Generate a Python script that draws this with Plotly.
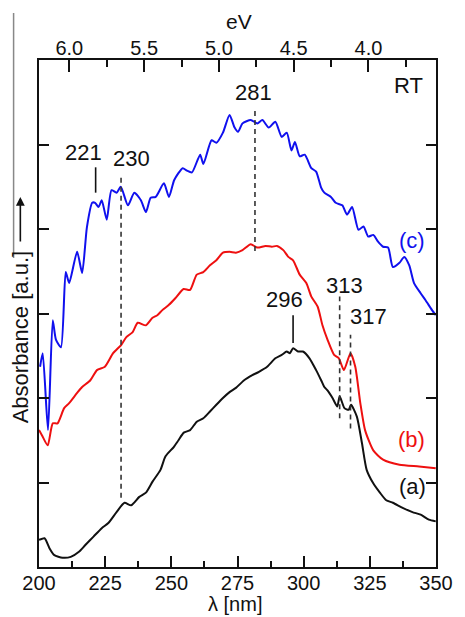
import plotly.graph_objects as go

# ---------------- data ----------------
# (c) blue
wl_c = [200.4, 201.4, 203.4, 205.2, 206.4, 208.3, 210.1, 211.4, 214.4, 216.3, 218.1, 220.1, 221.2,
        222.5, 223.7, 225.6, 227.4, 229.3, 230.9, 233.6, 236.0, 238.5, 240.4, 242.2, 244.1, 247.2,
        249.1, 251.1, 254.3, 255.9, 257.8, 260.9, 262.1, 265.2, 267.0, 269.5, 272.0, 273.9, 275.2,
        276.9, 280.0, 282.5, 284.4, 286.8, 289.3, 291.7, 293.6, 295.4, 296.7, 298.5, 300.4, 302.9,
        304.7, 306.6, 307.8, 310.3, 312.1, 314.6, 316.4, 318.3, 320.7, 322.6, 324.4, 326.3, 328.1,
        330.0, 331.9, 333.7, 336.2, 338.0, 339.9, 341.7, 344.2, 346.0, 348.5, 349.9]
abs_c = [2.37, 2.53, 1.62, 2.92, 2.69, 2.60, 3.49, 3.36, 3.73, 3.48, 4.02, 4.31, 4.31,
         4.26, 4.34, 4.11, 4.46, 4.43, 4.50, 4.28, 4.43, 4.34, 4.20, 4.37, 4.38, 4.54,
         4.38, 4.58, 4.72, 4.69, 4.67, 4.88, 4.77, 5.05, 5.02, 5.14, 5.35, 5.20, 5.15,
         5.25, 5.29, 5.25, 5.29, 5.20, 5.27, 5.09, 5.14, 4.93, 5.03, 4.86, 4.88, 4.72,
         4.68, 4.49, 4.43, 4.38, 4.31, 4.28, 4.17, 4.26, 3.99, 4.03, 3.91, 3.93, 3.85,
         3.79, 3.78, 3.55, 3.60, 3.67, 3.57, 3.36, 3.24, 3.16, 3.04, 2.98]

# (b) red
wl_b = [200.0, 201.1, 203.3, 205.2, 207.0, 209.5, 211.4, 214.4, 216.3, 219.4, 221.9, 224.9, 228.0,
        231.1, 233.0, 235.4, 237.3, 240.4, 242.9, 244.7, 246.6, 249.0, 251.5, 254.6, 257.1, 259.6,
        262.1, 264.6, 267.0, 269.5, 272.0, 274.4, 276.9, 280.0, 282.5, 285.6, 288.0, 289.9, 292.3,
        294.2, 296.0, 298.5, 301.0, 302.9, 305.3, 307.1, 309.0, 311.5, 313.3, 315.2, 317.7, 319.5,
        321.4, 323.2, 326.3, 330.0, 336.2, 343.6, 349.9]
abs_b = [1.62, 1.56, 1.44, 1.70, 1.70, 1.88, 1.94, 2.06, 2.13, 2.21, 2.33, 2.37, 2.53,
         2.63, 2.72, 2.78, 2.89, 2.86, 2.95, 2.98, 3.04, 3.10, 3.18, 3.29, 3.28, 3.46,
         3.49, 3.57, 3.63, 3.72, 3.73, 3.72, 3.75, 3.82, 3.78, 3.80, 3.79, 3.80, 3.75,
         3.67, 3.63, 3.46, 3.36, 3.20, 3.08, 2.86, 2.69, 2.51, 2.47, 2.33, 2.53, 2.37,
         1.94, 1.62, 1.38, 1.27, 1.21, 1.19, 1.17]

# (a) black
wl_a = [200.0, 202.1, 204.0, 205.8, 208.9, 212.0, 215.1, 217.5, 220.6, 223.7, 226.2, 229.3, 232.3,
        234.8, 237.9, 240.4, 242.9, 245.9, 247.8, 250.9, 252.7, 254.7, 257.1, 259.6, 262.1, 264.6,
        267.0, 269.5, 272.0, 274.4, 277.5, 280.6, 283.1, 286.2, 289.3, 291.7, 293.6, 294.8, 296.0,
        297.9, 299.7, 302.2, 304.7, 306.6, 307.8, 309.0, 310.9, 312.7, 313.6, 315.4, 317.0, 317.9,
        320.1, 322.0, 323.8, 326.3, 328.8, 331.2, 333.7, 337.4, 341.1, 344.2, 347.3, 349.9]
abs_a = [0.32, 0.34, 0.22, 0.14, 0.11, 0.12, 0.18, 0.26, 0.36, 0.46, 0.52, 0.65, 0.76,
         0.73, 0.83, 0.88, 1.01, 1.15, 1.31, 1.42, 1.50, 1.59, 1.62, 1.72, 1.76, 1.84,
         1.92, 2.00, 2.07, 2.12, 2.21, 2.27, 2.31, 2.37, 2.47, 2.51, 2.55, 2.53, 2.59,
         2.55, 2.55, 2.47, 2.33, 2.21, 2.13, 2.09, 2.00, 1.90, 2.02, 1.88, 1.86, 1.92,
         1.78, 1.47, 1.15, 0.99, 0.88, 0.79, 0.76, 0.70, 0.65, 0.62, 0.56, 0.54]

# peak marker lines: position, bottom, top, style
mark_labels = ["221", "230", "281", "296", "313", "317"]
mark_x      = [221.4, 231.0, 281.6, 296.0, 313.6, 317.7]
mark_y0     = [4.43, 0.82, 3.74, 2.65, 1.76, 1.64]
mark_y1     = [4.73, 4.62, 5.43, 2.98, 3.20, 2.75]
mark_dashed = [False, True, True, False, True, True]
# label positions
lab_x = [216.7, 234.8, 281.1, 292.8, 315.6, 324.4]
lab_y = [4.91, 4.83, 5.61, 3.16, 3.33, 2.96]

# curve labels
curve_names  = ["(c)", "(b)", "(a)"]
curve_lab_x  = [341.1, 340.7, 341.1]
curve_lab_y  = [3.86, 1.51, 0.95]

x_ticks = [200, 225, 250, 275, 300, 325, 350]
x_minor = [212.5, 237.5, 262.5, 287.5, 312.5, 337.5]
ev_ticks = [6.0, 5.5, 5.0, 4.5, 4.0]
ev_labels = ["6.0", "5.5", "5.0", "4.5", "4.0"]
ev_minor = [5.75, 5.25, 4.75, 4.25, 3.75]
ev_range = [6.203, 3.548]

BLUE = "#1010ee"
RED = "#ee1010"
BLACK = "#111111"
FONT = "Liberation Sans, Arial, sans-serif"

fig = go.Figure()

for wl, ab, col in [(wl_c, abs_c, BLUE), (wl_b, abs_b, RED), (wl_a, abs_a, BLACK)]:
    fig.add_trace(go.Scatter(x=wl, y=ab, mode="lines",
                             line=dict(color=col, width=2, shape="spline", smoothing=0.6),
                             showlegend=False, hoverinfo="skip"))

for xm, y0, y1, d in zip(mark_x, mark_y0, mark_y1, mark_dashed):
    fig.add_trace(go.Scatter(x=[xm, xm], y=[y0, y1], mode="lines",
                             line=dict(color="#333333" if d else BLACK, width=1.6,
                                       dash="5px,4px" if d else "solid"),
                             showlegend=False, hoverinfo="skip"))

# dummy trace for top eV axis
fig.add_trace(go.Scatter(x=ev_range, y=[None, None], xaxis="x2", yaxis="y",
                         mode="markers", showlegend=False, hoverinfo="skip"))

for t, xx, yy in zip(mark_labels, lab_x, lab_y):
    fig.add_annotation(x=xx, y=yy, text=t, showarrow=False, xref="x", yref="y",
                       font=dict(size=22, color=BLACK, family=FONT))
for t, xx, yy, col in zip(curve_names, curve_lab_x, curve_lab_y, [BLUE, RED, BLACK]):
    fig.add_annotation(x=xx, y=yy, text=t, showarrow=False, xref="x", yref="y",
                       font=dict(size=22, color=col, family=FONT))
fig.add_annotation(x=339.6, y=5.70, text="RT", showarrow=False, xref="x", yref="y",
                   font=dict(size=22, color=BLACK, family=FONT))

# axis titles
fig.add_annotation(x=0.494, y=-0.072, xref="paper", yref="paper", text="λ [nm]",
                   showarrow=False, yanchor="middle", font=dict(size=20, color=BLACK, family=FONT))
fig.add_annotation(x=0.503, y=1.075, xref="paper", yref="paper", text="eV",
                   showarrow=False, yanchor="middle", font=dict(size=21, color=BLACK, family=FONT))
fig.add_annotation(x=-0.047, y=(567 - 337) / 507, xref="paper", yref="paper",
                   text="Absorbance [a.u.]",
                   showarrow=False, textangle=-90, xanchor="center", yanchor="middle",
                   font=dict(size=22, color=BLACK, family=FONT))
# arrow after the y title
fig.add_annotation(x=-0.047, y=(567 - 197) / 507, xref="paper", yref="paper", text="",
                   showarrow=True, ax=0, ay=46, axref="pixel", ayref="pixel",
                   arrowhead=2, arrowsize=1.1, arrowwidth=1.6, arrowcolor=BLACK)

# artifact line at far left
fig.add_shape(type="line", xref="paper", yref="paper", x0=-0.064, x1=-0.064,
              y0=(567 - 13) / 507, y1=(567 - 258) / 507, line=dict(color="#888888", width=1.5))

fig.update_layout(
    width=465, height=617,
    margin=dict(l=39, r=21, t=60, b=50),
    plot_bgcolor="white", paper_bgcolor="white",
    font=dict(family=FONT, size=20, color=BLACK),
    xaxis=dict(range=[200, 350], tickvals=x_ticks, ticks="inside", ticklen=11, tickwidth=1.6,
               tickcolor=BLACK, showline=True, linecolor=BLACK, linewidth=2, mirror=True,
               showgrid=False, zeroline=False, tickfont=dict(size=20), ticklabelstandoff=-3,
               minor=dict(tickvals=x_minor, ticks="inside",
                          ticklen=6, tickwidth=1.6, tickcolor=BLACK, showgrid=False)),
    xaxis2=dict(range=ev_range, overlaying="x", side="top", anchor="y", tickvals=ev_ticks,
                ticktext=ev_labels, ticks="inside", ticklen=12,
                tickwidth=1.6, tickcolor=BLACK, showline=False, showgrid=False, zeroline=False,
                tickfont=dict(size=20),
                minor=dict(tickvals=ev_minor, ticks="inside", ticklen=7, tickwidth=1.6,
                           tickcolor=BLACK, showgrid=False)),
    yaxis=dict(range=[0, 6], tickvals=[1, 2, 3, 4, 5], showticklabels=False, ticks="inside",
               ticklen=10, tickwidth=1.6, tickcolor=BLACK, showline=True, linecolor=BLACK,
               linewidth=2, mirror="ticks", showgrid=False, zeroline=False),
)

fig.write_html("out.html", config={"responsive": False},
               post_script="document.body.style.margin='0';document.body.style.overflow='hidden';")
